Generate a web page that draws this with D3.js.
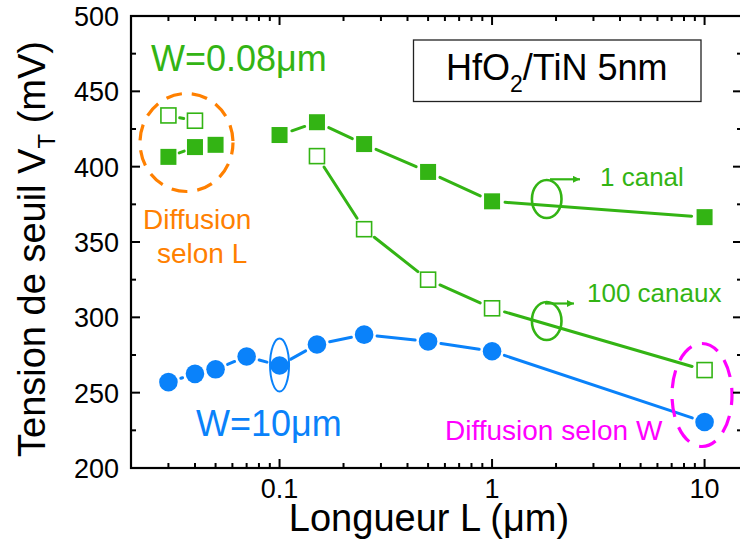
<!DOCTYPE html>
<html><head><meta charset="utf-8">
<script src="https://cdn.jsdelivr.net/npm/d3@7/dist/d3.min.js"></script>
<style>
html,body{margin:0;padding:0;background:#fff;}
text{font-family:"Liberation Sans",Arial,sans-serif;}
</style></head>
<body>
<svg id="chart" width="740" height="542"></svg>
<script>
// ---------------- data ----------------
const lDiffusion1 = [0.03, 0.04, 0.05];
const vtDiffusion1 = [406.5, 413, 414.5];
const lDiffusion100 = [0.03, 0.04];
const vtDiffusion100 = [434, 430.5];
const lCanal1 = [0.1, 0.15, 0.25, 0.5, 1, 10];
const vtCanal1 = [421, 429.5, 415, 396.5, 377, 366.5];
const lCanal100 = [0.15, 0.25, 0.5, 1, 10];
const vtCanal100 = [407, 358.5, 325, 306, 265];
const lWide = [0.03, 0.04, 0.05, 0.07, 0.1, 0.15, 0.25, 0.5, 1, 10];
const vtWide = [257, 262.5, 265.5, 274, 268, 282, 288.5, 284, 277.5, 230.5];
const xTickValues = [0.1, 1, 10];
const xTickLabels = ["0.1", "1", "10"];
const yTickValues = [200, 250, 300, 350, 400, 450, 500];
const yTickLabels = ["200", "250", "300", "350", "400", "450", "500"];
const yMinorTicks = [225, 275, 325, 375, 425, 475];

// ---------------- layout ----------------
const green = "#33b414", blue = "#0a82fa", orange = "#ff8000", magenta = "#ff00ff";
const svg = d3.select("#chart");
const pLeft = 131, pRight = 742, pTop = 16, pBottom = 468;
const x = d3.scaleLog().domain([0.02, 15]).range([pLeft, pRight]);
const y = d3.scaleLinear().domain([200, 500]).range([pBottom, pTop]);

// ---------------- lines with gaps ----------------
function gappedLine(ls, vs, color, gap) {
  for (let i = 0; i < ls.length - 1; i++) {
    const x1 = x(ls[i]), y1 = y(vs[i]), x2 = x(ls[i+1]), y2 = y(vs[i+1]);
    const d = Math.hypot(x2 - x1, y2 - y1);
    if (d <= 2 * gap) continue;
    const ux = (x2 - x1) / d, uy = (y2 - y1) / d;
    svg.append("line")
      .attr("x1", x1 + ux * gap).attr("y1", y1 + uy * gap)
      .attr("x2", x2 - ux * gap).attr("y2", y2 - uy * gap)
      .attr("stroke", color).attr("stroke-width", 3).attr("stroke-linecap", "round");
  }
}
gappedLine(lDiffusion1, vtDiffusion1, green, 11.5);
gappedLine(lDiffusion100, vtDiffusion100, green, 11.5);
gappedLine(lCanal1, vtCanal1, green, 13);
gappedLine(lCanal100, vtCanal100, green, 13);
gappedLine(lWide, vtWide, blue, 13);

// ---------------- markers ----------------
function filledSquares(ls, vs) {
  svg.append("g").selectAll("rect").data(ls).join("rect")
    .attr("x", (d) => x(d) - 8).attr("y", (d, i) => y(vs[i]) - 8)
    .attr("width", 16).attr("height", 16).attr("fill", green);
}
function openSquares(ls, vs) {
  svg.append("g").selectAll("rect").data(ls).join("rect")
    .attr("x", (d) => x(d) - 7.5).attr("y", (d, i) => y(vs[i]) - 7.5)
    .attr("width", 15).attr("height", 15).attr("fill", "#fff")
    .attr("stroke", green).attr("stroke-width", 1.6);
}
filledSquares(lDiffusion1, vtDiffusion1);
filledSquares(lCanal1, vtCanal1);
openSquares(lDiffusion100, vtDiffusion100);
openSquares(lCanal100, vtCanal100);
svg.append("g").selectAll("circle").data(lWide).join("circle")
  .attr("cx", (d) => x(d)).attr("cy", (d, i) => y(vtWide[i])).attr("r", 9.3)
  .attr("fill", blue);

// ---------------- annotations ----------------
svg.append("ellipse").attr("cx", 186.5).attr("cy", 142.5).attr("rx", 46.5).attr("ry", 49)
  .attr("fill", "none").attr("stroke", orange).attr("stroke-width", 3.2)
  .attr("stroke-dasharray", "16 10").attr("stroke-dashoffset", 4);
svg.append("ellipse").attr("cx", 702).attr("cy", 395).attr("rx", 30).attr("ry", 51.5)
  .attr("fill", "none").attr("stroke", magenta).attr("stroke-width", 3.2)
  .attr("stroke-dasharray", "18 11").attr("stroke-dashoffset", 8);
svg.append("ellipse").attr("cx", x(0.1)).attr("cy", 365).attr("rx", 9.5).attr("ry", 26.5)
  .attr("fill", "none").attr("stroke", blue).attr("stroke-width", 2);
const defs = svg.append("defs");
defs.append("marker").attr("id", "arr").attr("viewBox", "0 0 10 10")
  .attr("refX", 10).attr("refY", 5).attr("markerWidth", 10).attr("markerHeight", 7)
  .attr("markerUnits", "userSpaceOnUse").attr("orient", "auto")
  .append("path").attr("d", "M0,0 L10,5 L0,10 Z").attr("fill", green);
[[546.7, 199, 550, 580, 179.3], [546.7, 321, 545, 574, 303.5]].forEach(([cx, cy, ax1, ax2, ay]) => {
  svg.append("ellipse").attr("cx", cx).attr("cy", cy).attr("rx", 14.8).attr("ry", 19)
    .attr("fill", "none").attr("stroke", green).attr("stroke-width", 2.6);
  svg.append("line").attr("x1", ax1).attr("y1", ay).attr("x2", ax2).attr("y2", ay)
    .attr("stroke", green).attr("stroke-width", 2.2).attr("marker-end", "url(#arr)");
});

function txt(s, tx, ty, size, color, anchor) {
  return svg.append("text").attr("x", tx).attr("y", ty).attr("font-size", size)
    .attr("fill", color).attr("text-anchor", anchor || "start").text(s);
}
txt("W=0.08μm", 151, 71, 36, green);
txt("W=10μm", 196, 436, 36, blue);
txt("Diffusion", 143, 229, 28, orange);
txt("selon L", 157, 263, 28, orange);
txt("Diffusion selon W", 445, 440, 28, magenta);
txt("1 canal", 600, 186, 26, green);
txt("100 canaux", 587, 302, 26, green);

svg.append("rect").attr("x", 413.5).attr("y", 40).attr("width", 287.5).attr("height", 61.5)
  .attr("fill", "none").attr("stroke", "#222").attr("stroke-width", 1.3);
const bt = svg.append("text").attr("x", 446).attr("y", 80).attr("font-size", 36).attr("fill", "#000");
bt.append("tspan").text("HfO");
bt.append("tspan").attr("font-size", 23).attr("dy", 12).text("2");
bt.append("tspan").attr("dy", -12).text("/TiN 5nm");

// ---------------- axes ----------------
const axes = svg.append("g").attr("stroke", "#000");
const xMinor = x.ticks().filter((t) => !xTickValues.includes(t) && t > 0.02);
xMinor.forEach((t) => {
  axes.append("line").attr("x1", x(t)).attr("x2", x(t)).attr("y1", pBottom).attr("y2", pBottom - 5).attr("stroke-width", 2);
  axes.append("line").attr("x1", x(t)).attr("x2", x(t)).attr("y1", pTop).attr("y2", pTop + 5).attr("stroke-width", 2);
});
xTickValues.forEach((t, i) => {
  axes.append("line").attr("x1", x(t)).attr("x2", x(t)).attr("y1", pBottom).attr("y2", pBottom - 9).attr("stroke-width", 2);
  axes.append("line").attr("x1", x(t)).attr("x2", x(t)).attr("y1", pTop).attr("y2", pTop + 9).attr("stroke-width", 2);
  txt(xTickLabels[i], x(t), 498, 27, "#000", "middle");
});
yMinorTicks.forEach((t) => {
  axes.append("line").attr("x1", pLeft).attr("x2", pLeft + 5).attr("y1", y(t)).attr("y2", y(t)).attr("stroke-width", 2);
  axes.append("line").attr("x1", pRight).attr("x2", pRight - 5).attr("y1", y(t)).attr("y2", y(t)).attr("stroke-width", 2);
});
yTickValues.forEach((t, i) => {
  axes.append("line").attr("x1", pLeft).attr("x2", pLeft + 9).attr("y1", y(t)).attr("y2", y(t)).attr("stroke-width", 2);
  axes.append("line").attr("x1", pRight).attr("x2", pRight - 9).attr("y1", y(t)).attr("y2", y(t)).attr("stroke-width", 2);
  txt(yTickLabels[i], 119, y(t) + 10, 27, "#000", "end");
});
axes.append("rect").attr("x", pLeft).attr("y", pTop).attr("width", pRight - pLeft).attr("height", pBottom - pTop)
  .attr("fill", "none").attr("stroke-width", 2.2);

txt("Longueur L (μm)", 429, 531, 38, "#000", "middle");
const yt = svg.append("text").attr("transform", "translate(45,249) rotate(-90)")
  .attr("text-anchor", "middle").attr("font-size", 38).attr("fill", "#000");
yt.append("tspan").text("Tension de seuil V");
yt.append("tspan").attr("font-size", 24).attr("dy", 10).text("T");
yt.append("tspan").attr("dy", -10).text(" (mV)");
</script>
</body></html>
